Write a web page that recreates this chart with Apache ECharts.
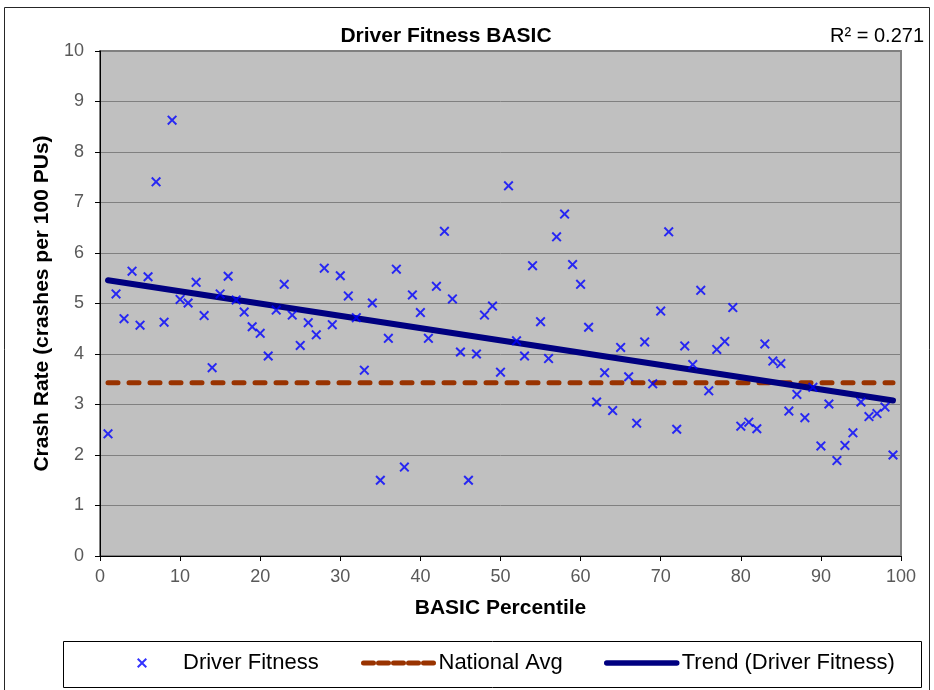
<!DOCTYPE html>
<html>
<head>
<meta charset="utf-8">
<script src="https://cdn.jsdelivr.net/npm/echarts@6/dist/echarts.min.js"></script>
<style>
  html, body { margin: 0; padding: 0; background: #fff; }
  #chart { width: 934px; height: 690px; }
</style>
</head>
<body>
<div id="chart"></div>
<script>
// ---- data ----
const percentiles = [1,2,3,4,5,6,7,8,9,10,11,12,13,14,15,16,17,18,19,20,
  21,22,23,24,25,26,27,28,29,30,31,32,33,34,35,36,37,38,39,40,
  41,42,43,44,45,46,47,48,49,50,51,52,53,54,55,56,57,58,59,60,
  61,62,63,64,65,66,67,68,69,70,71,72,73,74,75,76,77,78,79,80,
  81,82,83,84,85,86,87,88,89,90,91,92,93,94,95,96,97,98,99];
const crashRates = [2.42,5.19,4.70,5.64,4.57,5.53,7.41,4.63,8.63,5.08,
  5.01,5.42,4.76,3.73,5.19,5.54,5.07,4.83,4.54,4.41,
  3.96,4.87,5.38,4.77,4.17,4.62,4.38,5.70,4.58,5.55,
  5.15,4.72,3.68,5.01,1.50,4.31,5.68,1.76,5.17,4.82,
  4.31,5.34,6.43,5.09,4.04,1.50,4.00,4.77,4.95,3.64,
  7.33,4.26,3.96,5.75,4.64,3.91,6.32,6.77,5.77,5.38,
  4.53,3.05,3.63,2.88,4.13,3.55,2.63,4.24,3.41,4.85,
  6.42,2.51,4.16,3.79,5.26,3.27,4.09,4.25,4.92,2.57,
  2.65,2.52,4.20,3.86,3.81,2.87,3.20,2.74,3.34,2.18,
  3.01,1.89,2.19,2.44,3.05,2.76,2.82,2.95,2.00];
const nationalAvgX = [1, 99];
const nationalAvgY = [3.43, 3.43];
const trendX = [1, 99];
const trendY = [5.46, 3.08];
const xTicks = [0,10,20,30,40,50,60,70,80,90,100];
const yTicks = [0,1,2,3,4,5,6,7,8,9,10];
const seriesNames = ['Driver Fitness', 'National Avg', 'Trend (Driver Fitness)'];
const chartTitle = 'Driver Fitness BASIC';
const r2Text = 'R² = 0.271';
const xName = 'BASIC Percentile';
const yName = 'Crash Rate (crashes per 100 PUs)';

// ---- chart ----
const FONT = '"Liberation Sans", Arial, sans-serif';
const xMark = 'path://M0,1.4 L1.4,0 L5,3.6 L8.6,0 L10,1.4 L6.4,5 L10,8.6 L8.6,10 L5,6.4 L1.4,10 L0,8.6 L3.6,5 Z';
const scatterData = percentiles.map((p, i) => [p, crashRates[i]]);
const avgData = nationalAvgX.map((x, i) => [x, nationalAvgY[i]]);
const trendData = trendX.map((x, i) => [x, trendY[i]]);

const AVG_COLOR = '#993300';
const TREND_COLOR = '#000080';
const chart = echarts.init(document.getElementById('chart'), null, { renderer: 'canvas' });
const legendText = { fontFamily: FONT, fontSize: 22, color: '#000' };
chart.setOption({
  animation: false,
  backgroundColor: '#fff',
  title: [
    { text: chartTitle, left: 441, top: 21, textAlign: 'center',
      textStyle: { fontFamily: FONT, fontSize: 21, fontWeight: 'bold', color: '#000' } },
    { text: r2Text, right: 5, top: 21,
      textStyle: { fontFamily: FONT, fontSize: 20, fontWeight: 'normal', color: '#000' } }
  ],
  grid: {
    left: 100, right: 33, top: 51, bottom: 134,
    show: true, backgroundColor: '#c0c0c0', borderColor: '#808080', borderWidth: 2
  },
  xAxis: {
    type: 'value', min: xTicks[0], max: xTicks[xTicks.length - 1], interval: 10,
    name: xName, nameLocation: 'middle', nameGap: 42,
    nameTextStyle: { fontFamily: FONT, fontSize: 21, fontWeight: 'bold', color: '#000' },
    axisLine: { show: true, onZero: false, lineStyle: { color: '#000', width: 1 } },
    axisTick: { show: true, length: 5, lineStyle: { color: '#000' } },
    axisLabel: { fontFamily: FONT, fontSize: 18, color: '#595959', margin: 12 },
    splitLine: { show: false }
  },
  yAxis: {
    type: 'value', min: yTicks[0], max: yTicks[yTicks.length - 1], interval: 1,
    name: yName, nameLocation: 'middle', nameGap: 46,
    nameTextStyle: { fontFamily: FONT, fontSize: 21, fontWeight: 'bold', color: '#000' },
    axisLine: { show: true, onZero: false, lineStyle: { color: '#000', width: 1 } },
    axisTick: { show: true, length: 5, lineStyle: { color: '#000' } },
    axisLabel: { fontFamily: FONT, fontSize: 18, color: '#595959', margin: 16 },
    splitLine: { show: true, lineStyle: { color: '#808080', width: 1 } }
  },
  legend: [
    { data: [{ name: seriesNames[0], icon: xMark }], left: 137, top: 652, padding: 0,
      itemWidth: 72, itemHeight: 10, symbolKeepAspect: true, textStyle: legendText },
    { data: [{ name: seriesNames[1],
               itemStyle: { color: 'transparent', borderWidth: 0 },
               lineStyle: { color: AVG_COLOR, width: 5, type: [10, 5], cap: 'round' } }],
      left: 361, top: 652, padding: 0,
      itemWidth: 70, itemHeight: 20, textStyle: legendText },
    { data: [{ name: seriesNames[2],
               itemStyle: { color: 'transparent', borderWidth: 0 },
               lineStyle: { color: TREND_COLOR, width: 5.5, cap: 'round' } }],
      left: 604, top: 652, padding: 0,
      itemWidth: 70, itemHeight: 20, textStyle: legendText }
  ],
  graphic: [
    { type: 'rect', shape: { x: 4.5, y: 7.5, width: 925, height: 700 },
      style: { fill: 'none', stroke: '#262626', lineWidth: 1 }, silent: true, z: -1 },
    { type: 'rect', shape: { x: 63.5, y: 641.5, width: 858, height: 46 },
      style: { fill: 'none', stroke: '#000', lineWidth: 1 }, silent: true }
  ],
  series: [
    { name: seriesNames[1], type: 'line', data: avgData, symbol: 'none', z: 2,
      lineStyle: { color: AVG_COLOR, width: 5, type: [10, 11], cap: 'round' },
      itemStyle: { color: AVG_COLOR } },
    { name: seriesNames[2], type: 'line', data: trendData, symbol: 'none', z: 3,
      lineStyle: { color: TREND_COLOR, width: 6, cap: 'round' },
      itemStyle: { color: TREND_COLOR } },
    { name: seriesNames[0], type: 'scatter', data: scatterData, z: 5,
      symbol: xMark, symbolSize: 10, itemStyle: { color: '#0000ff' } }
  ]
});
</script>
</body>
</html>
